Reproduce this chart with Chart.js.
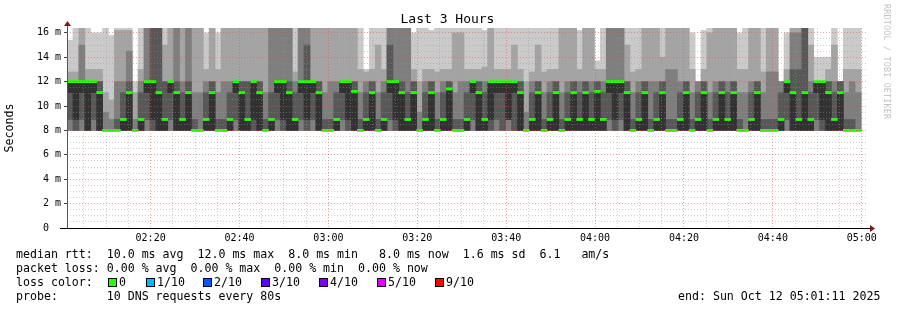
<!DOCTYPE html>
<html>
<head>
<meta charset="utf-8">
<script src="https://cdn.jsdelivr.net/npm/chart.js@4/dist/chart.umd.min.js"></script>
<style>
  body { margin: 0; background: #fff; width: 897px; height: 310px; overflow: hidden; position: relative; font-family: "DejaVu Sans Mono", monospace; }
  #chart { position: absolute; left: 0; top: 0; }
  .txt { position: absolute; white-space: pre; font-size: 11.6px; line-height: 14px; color: #000; }
  .title { position: absolute; top: 11px; left: 0; width: 895px; text-align: center; font-size: 13px; line-height: 16px; }
  .mark { position: absolute; left: 882px; top: 4px; writing-mode: vertical-rl; font-size: 8.4px; color: #c4c4c4; letter-spacing: 0.2px; }
  .box { position: absolute; width: 7px; height: 7px; border: 1px solid #000; }
</style>
</head>
<body>
<canvas id="chart" width="897" height="310"></canvas>
<div class="title">Last 3 Hours</div>
<div class="mark">RRDTOOL / TOBI OETIKER</div>
<div class="txt" style="left:16px;top:247px">median rtt:  10.0 ms avg  12.0 ms max  8.0 ms min   8.0 ms now  1.6 ms sd  6.1   am/s</div>
<div class="txt" style="left:16px;top:261px">packet loss: 0.00 % avg  0.00 % max  0.00 % min  0.00 % now</div>
<div class="txt" style="left:16px;top:275px">loss color:</div>
<div id="lossLegend"></div>
<div class="txt" style="left:16px;top:289px">probe:       10 DNS requests every 80s</div>
<div class="txt" style="left:678px;top:289px">end: Sun Oct 12 05:01:11 2025</div>
<script>
// time window: 02:01:11 .. 05:01:11, one sample every 80 s
const startMin = 121 + 11 / 60;
const stepMin = 80 / 60;

// median rtt per step (ms)
const median = [
  12, 12, 12, 12, 12, 11.1, 8, 8, 8, 8.9,
  11.1, 8, 8.9, 12, 12, 11.1, 8.9, 12, 11.1, 8.9,
  11.1, 8, 8, 8.9, 11.1, 8, 8, 8.9, 12, 11.1,
  8.9, 12, 11.1, 8, 8.9, 12, 12, 11.1, 8.9, 12,
  12, 12, 11.1, 8, 8, 8.9, 12, 12, 11.2, 8,
  8.9, 11.1, 8, 8.9, 12, 12, 11.1, 8.9, 11.1, 8,
  8.9, 11.1, 8, 8.9, 11.4, 8, 8, 8.9, 12, 11.1,
  8.9, 12, 12, 12, 12, 12, 11.1, 8, 8.9, 11.1,
  8, 8.9, 11.1, 8, 8.9, 11.1, 8.9, 11.1, 8.9, 11.2,
  8.9, 12, 12, 12, 11.1, 8, 8.9, 11.1, 8, 8.9,
  11.1, 8, 8, 8.9, 11.1, 8, 8.9, 11.1, 8, 8.9,
  11.1, 8.9, 11.1, 8, 8, 8.9, 11.1, 8, 8, 8,
  8.9, 12, 11.1, 8.9, 11.1, 8.9, 12, 12, 11.1, 8.9,
  11.1, 8, 8, 8
];

// sorted pings of each step (smoke), lowest to highest; ping6 is the median
const ping1 = median.map(() => 8);
const ping2 = median.map(() => 8);
const ping3 = median.map(() => 8);
const ping4 = [
  8.9, 8, 8.9, 8, 8.9, 8, 8, 8, 8, 8,
  8, 8, 8, 8.9, 8, 8, 8, 8.9, 8, 8,
  8, 8, 8, 8, 8, 8, 8, 8, 8.9, 8,
  8, 8, 8, 8, 8, 8.9, 8, 8, 8, 8.9,
  8, 8.9, 8, 8, 8, 8, 8.9, 8, 8, 8,
  8, 8, 8, 8, 8.9, 8, 8, 8, 8, 8,
  8, 8, 8, 8, 8, 8, 8, 8, 8.9, 8,
  8, 8, 8.9, 8, 8.9, 8, 8, 8, 8, 8,
  8, 8, 8, 8, 8, 8, 8, 8, 8, 8,
  8, 8.9, 8, 8.9, 8, 8, 8, 8, 8, 8,
  8, 8, 8, 8, 8, 8, 8, 8, 8, 8,
  8, 8, 8, 8, 8, 8, 8, 8, 8, 8,
  8, 8.9, 8, 8, 8, 8, 8.9, 8, 8, 8,
  8, 8, 8, 8
];
const ping5 = [
  11.1, 8.9, 11.1, 8, 11.1, 8, 8, 8, 8, 8,
  8, 8, 8, 11.1, 8.9, 8, 8, 11.1, 8, 8,
  8, 8, 8, 8, 8, 8, 8, 8, 11.1, 8,
  8, 8.9, 8, 8, 8, 11.1, 8.9, 8, 8, 11.1,
  8.9, 11.1, 8, 8, 8, 8, 11.1, 8.9, 8, 8,
  8, 8, 8, 8, 11.1, 8.9, 8, 8, 8, 8,
  8, 8, 8, 8, 8, 8, 8, 8, 11.1, 8,
  8, 8.9, 11.1, 11.1, 8.9, 11.1, 8, 8, 8, 8,
  8, 8, 8, 8, 8, 8, 8, 8, 8, 8,
  8, 11.1, 8.9, 11.1, 8, 8, 8, 8, 8, 8,
  8, 8, 8, 8, 8, 8, 8, 8, 8, 8,
  8, 8, 8, 8, 8, 8, 8, 8, 8, 8,
  8, 11.1, 8, 8, 8, 8, 11.1, 8.9, 8, 8,
  8, 8, 8, 8
];
const ping6 = median.slice();
const ping7 = [
  12, 12, 12, 12, 12, 12, 8, 8, 8.9, 11.1,
  12, 8, 11.1, 12, 16.6, 16.6, 12, 12, 12, 11.1,
  12, 8.9, 8, 11.1, 12, 8.9, 8.9, 11.1, 12, 12,
  12, 12, 12, 8.9, 11.1, 12, 12, 12, 11.1, 12,
  15, 12, 12, 8.9, 8.9, 11.1, 12, 12, 12, 8.9,
  11.1, 12, 8.9, 11.1, 15, 12, 12, 11.1, 12, 8,
  11.1, 12, 8.9, 11.1, 12, 8.9, 8.9, 11.1, 12, 12,
  11.1, 12, 12, 12, 12, 12, 12, 8, 11.1, 12,
  8.9, 11.1, 12, 8.9, 11.1, 12, 11.1, 12, 11.1, 12,
  11.1, 12, 12, 12, 12, 8.9, 11.1, 12, 8.9, 11.1,
  12, 8.9, 8.9, 11.1, 12, 8.9, 11.1, 12, 8.9, 11.1,
  12, 11.1, 12, 8.9, 8, 11.1, 12, 8.9, 8.9, 8.9,
  11.1, 12, 13, 13, 16.6, 11.1, 12, 12, 12, 11.1,
  12, 8.9, 8.9, 8
];
const ping8 = [
  12, 12, 15, 12, 12, 12, 9.5, 8.9, 12, 12,
  14.5, 8.9, 12, 16.6, 16.6, 16.6, 12, 12, 16.6, 12,
  16.6, 11.1, 11.1, 12, 12, 11.1, 12, 12, 12, 12,
  12, 12, 12, 11.1, 16.6, 16.6, 16.6, 16.6, 12, 16.6,
  16.6, 12, 12, 11.1, 12, 12, 12, 12, 12, 11.1,
  12, 12, 11.1, 12, 16.6, 16.6, 16.6, 16.6, 12, 9.5,
  12, 12, 11.1, 12, 12, 11.1, 12, 12, 12, 12,
  12, 12, 12, 12, 12, 12, 12, 9.5, 12, 12,
  11.1, 12, 12, 11.1, 12, 12, 12, 12, 12, 12,
  12, 16.6, 16.6, 16.6, 12, 11.1, 12, 12, 12, 12,
  12, 13, 13, 12, 12, 11.1, 12, 12, 11.1, 12,
  12, 12, 12, 11.1, 11.1, 12, 12, 11.1, 12.8, 12.8,
  12, 12, 16, 16, 16.6, 12, 12, 12, 12, 12,
  12, 11.1, 12, 11.1
];
const ping9 = [
  12.8, 12.8, 16.6, 13, 13, 13, 11.1, 10.5, 16.2, 16.2,
  16.2, 11.1, 13, 16.6, 16.6, 16.6, 15, 16.4, 16.6, 16.6,
  16.6, 16.6, 16.6, 13, 16.6, 13, 16.6, 16.6, 16.6, 16.6,
  16.6, 16.6, 16.6, 16.6, 16.6, 16.6, 16.6, 16.6, 12.8, 16.6,
  16.6, 16.6, 16.6, 16.6, 16.6, 16.6, 16.6, 16.6, 16.6, 13,
  12.8, 13, 15, 13, 16.6, 16.6, 16.6, 16.6, 13, 12,
  13, 13, 12.8, 13, 13, 16, 16, 13, 13, 13,
  13.2, 16.6, 13, 13, 13, 15, 13, 12, 12.8, 15,
  12.8, 13, 13, 16.6, 16.6, 16.6, 13, 16.6, 16.6, 13,
  13, 16.6, 16.6, 16.6, 15, 12.8, 13, 16.6, 16.6, 16.6,
  14, 16.6, 16.6, 16.6, 16.6, 13, 12, 13, 16, 16.6,
  16.6, 16.6, 16.6, 13, 13, 16.6, 16.6, 12.8, 16.6, 16.6,
  12, 13, 16.6, 16.6, 16.6, 15, 12, 12, 13, 15,
  12, 13, 13, 13
];
const ping10 = [
  15.4, 16.6, 16.6, 16.6, 16, 16, 16.6, 15.8, 16.6, 16.6,
  16.6, 12, 16.6, 16.6, 16.6, 16.6, 16.6, 16.6, 16.6, 16.6,
  16.6, 16.6, 16.6, 16, 16.6, 16, 16.6, 16.6, 16.6, 16.6,
  16.6, 16.6, 16.6, 16.6, 16.6, 16.6, 16.6, 16.6, 16.6, 16.6,
  16.6, 16.6, 16.6, 16.6, 16.6, 16.6, 16.6, 16.6, 16.6, 16.6,
  13, 16.6, 16.6, 16.6, 16.6, 16.6, 16.6, 16.6, 16, 16.6,
  16.6, 16.2, 16.6, 16.6, 16.6, 16.6, 16.6, 16.6, 16.6, 16.6,
  16.2, 16.6, 16.6, 16.6, 16.6, 16.6, 16.6, 16.6, 16.6, 16.6,
  16.6, 16.6, 16.6, 16.6, 16.6, 16.6, 16.2, 16.6, 16.6, 13.7,
  16.6, 16.6, 16.6, 16.6, 16.6, 16.6, 16.6, 16.6, 16.6, 16.6,
  16.6, 16.6, 16.6, 16.6, 16.6, 16, 12, 16.2, 16.6, 16.6,
  16.6, 16.6, 16.6, 16, 16.6, 16.6, 16.6, 16.6, 16.6, 16.6,
  12, 16, 16.6, 16.6, 16.6, 16.6, 14, 14, 14, 16.6,
  12, 16.6, 16.6, 16.6
];

const smokeGrays = ['#cacaca', '#a4a4a4', '#7e7e7e', '#585858', '#323232'];
const lossColors = ['#26ff00', '#00b8ff', '#0059ff', '#5e00ff', '#7e00ff', '#dd00ff', '#ff0000'];
const lossLabels = ['0', '1/10', '2/10', '3/10', '4/10', '5/10', '9/10'];
const lossBoxX = [108, 146, 203, 261, 319, 377, 435];

const xTicks = [];
for (let m = 125; m <= 300; m += 5) xTicks.push(m);
const yTicks = [];
for (let v = 0; v <= 16; v += 0.5) yTicks.push(v);

const lossLegend = document.getElementById('lossLegend');
lossLabels.forEach((lbl, i) => {
  const b = document.createElement('div');
  b.className = 'box';
  b.style.left = lossBoxX[i] + 'px';
  b.style.top = '278px';
  b.style.background = lossColors[i];
  lossLegend.appendChild(b);
  const t = document.createElement('div');
  t.className = 'txt';
  t.style.left = (lossBoxX[i] + 11) + 'px';
  t.style.top = '275px';
  t.textContent = lbl;
  lossLegend.appendChild(t);
});

function stepX(i) {
  return startMin + (i + 0.5) * stepMin;
}

function band(lo, hi) {
  return lo.map((v, i) => ({ x: stepX(i), y: hi[i] > v ? [v, hi[i]] : null }));
}

// outer pair first, darkest (middle) pair last
const bands = [[ping1, ping10], [ping2, ping9], [ping3, ping8], [ping4, ping7], [ping5, ping6]];
const datasets = bands.map((b, k) => ({
  label: 'smoke' + k,
  data: band(b[0], b[1]),
  backgroundColor: smokeGrays[k],
  order: 10 - k
}));
datasets.push({
  label: 'median',
  data: median.map((v, i) => ({ x: stepX(i), y: [v - 0.09, v + 0.09] })),
  backgroundColor: lossColors[0],
  order: 0
});

function hhmm(v) {
  const h = Math.floor(v / 60), m = Math.round(v % 60);
  return String(h).padStart(2, '0') + ':' + String(m).padStart(2, '0');
}

const axesPlugin = {
  id: 'rrdAxes',
  afterDraw(chart) {
    const ctx = chart.ctx, a = chart.chartArea;
    ctx.save();
    ctx.fillStyle = '#000';
    ctx.fillRect(60, a.bottom, a.right - 60 + 3, 1);
    ctx.fillStyle = '#555';
    ctx.fillRect(a.left, a.top - 6, 1, a.bottom - a.top + 6);
    ctx.fillStyle = '#7a1a1a';
    ctx.beginPath();
    ctx.moveTo(a.right + 3, a.bottom - 3);
    ctx.lineTo(a.right + 8, a.bottom + 0.5);
    ctx.lineTo(a.right + 3, a.bottom + 4);
    ctx.fill();
    ctx.beginPath();
    ctx.moveTo(a.left - 3, a.top - 2);
    ctx.lineTo(a.left + 0.5, a.top - 7);
    ctx.lineTo(a.left + 4, a.top - 2);
    ctx.fill();
    ctx.restore();
  }
};

new Chart(document.getElementById('chart'), {
  type: 'bar',
  data: { datasets },
  options: {
    responsive: false,
    animation: false,
    devicePixelRatio: 1,
    layout: { padding: { left: 0, right: 30, top: 28, bottom: 0 } },
    datasets: { bar: { grouped: false, barPercentage: 1, categoryPercentage: 1, borderWidth: 0 } },
    plugins: { legend: { display: false }, tooltip: { enabled: false }, title: { display: false } },
    scales: {
      x: {
        type: 'linear',
        min: startMin,
        max: startMin + 180,
        offset: false,
        afterBuildTicks: s => { s.ticks = xTicks.map(v => ({ value: v })); },
        afterFit: s => { s.height = 82; },
        ticks: {
          autoSkip: false, maxRotation: 0, padding: 4,
          color: '#000',
          font: { family: 'DejaVu Sans Mono', size: 10 },
          callback: v => (v % 20 === 0 ? hhmm(v) : '')
        },
        grid: {
          z: 1, offset: false, drawTicks: false,
          color: c => (c.tick && c.tick.value % 20 === 0 ? 'rgba(230,80,80,0.55)' : 'rgba(150,150,150,0.45)')
        },
        border: { display: false, dash: [1, 2] }
      },
      y: {
        min: 0,
        max: 16.4,
        afterBuildTicks: s => { s.ticks = yTicks.map(v => ({ value: v })); },
        afterFit: s => { s.width = 67; },
        ticks: {
          autoSkip: false, padding: 3,
          color: '#000',
          font: { family: 'DejaVu Sans Mono', size: 10 },
          callback: v => (v % 2 === 0 ? (v === 0 ? '0  ' : v + ' m') : '')
        },
        grid: {
          z: 1, drawTicks: true, tickLength: 3,
          color: c => (c.tick && c.tick.value % 2 === 0 ? 'rgba(230,80,80,0.55)' : 'rgba(150,150,150,0.45)'),
          tickColor: c => (c.tick && c.tick.value % 2 === 0 ? '#444' : 'rgba(0,0,0,0)')
        },
        border: { display: false, dash: [1, 2] },
        title: { display: true, text: 'Seconds', color: '#000', font: { family: 'DejaVu Sans Mono', size: 11.6 }, padding: { top: 3, bottom: 0 } }
      }
    }
  },
  plugins: [axesPlugin]
});
</script>
</body>
</html>
